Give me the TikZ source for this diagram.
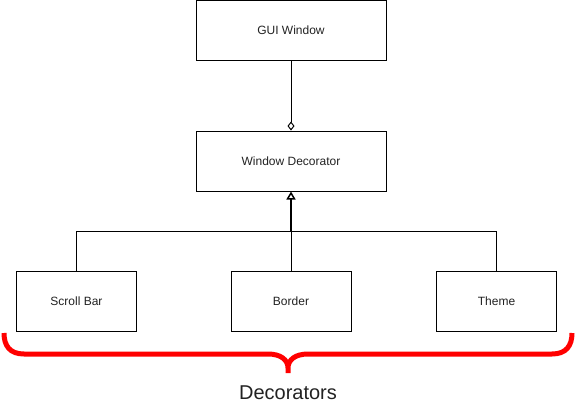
\documentclass[tikz,border=0pt]{standalone}
\usepackage{fontspec}
\setmainfont{Liberation Sans}
\usetikzlibrary{arrows.meta}
\definecolor{txt}{HTML}{222222}
\begin{document}
\begin{tikzpicture}[x=1pt,y=-1pt,
  box/.style={draw=black,line width=1pt,minimum width=190pt,minimum height=60pt,inner sep=0pt,font=\fontsize{12pt}{14pt}\selectfont,text=txt},
  smallbox/.style={box,minimum width=120pt},
  conn/.style={draw=black,line width=1pt}]
\useasboundingbox (0,0) rectangle (576,413);
\node[box] (gui) at (291,30.5) {GUI Window};
\node[box] (dec) at (291,161) {Window Decorator};
\node[smallbox] (sb) at (76.5,301) {Scroll Bar};
\node[smallbox] (bo) at (291,301) {Border};
\node[smallbox] (th) at (496.5,301) {Theme};
\coordinate (j) at (291,231.5);
\draw[conn,-{Diamond[open,length=9pt,width=7pt]}] (gui.south) -- (dec.north);
\draw[conn,line width=2pt,-{Triangle[open,length=8pt,width=9pt,line width=1.5pt]}] (j) -- (dec.south);
\draw[conn] (sb.north) -- (sb.north |- j) -- (th.north |- j) -- (th.north);
\draw[conn] (bo.north) -- (j);
\draw[red,line width=5pt] (4,333) .. controls (4,346) and (10,354) .. (24,354) -- (268,354)
  .. controls (281,354) and (288,360) .. (288,368) -- (288,373)
  (288,368) .. controls (288,360) and (295,354) .. (308,354) -- (552,354)
  .. controls (566,354) and (572,346) .. (572,333);
\node[text=txt,font=\fontsize{20pt}{24pt}\selectfont] (lbl) at (288,393) {Decorators};
\end{tikzpicture}
\end{document}
